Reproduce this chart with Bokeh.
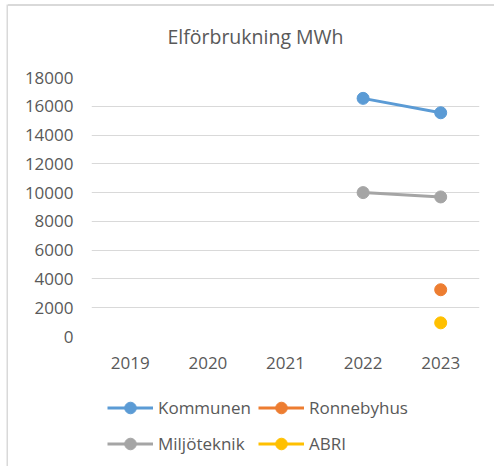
from bokeh.plotting import figure
from bokeh.layouts import column, row
from bokeh.models import Range1d, FactorRange, Legend, LegendItem, FixedTicker, Label, Spacer, Div
from bokeh.embed import file_html
from bokeh.resources import INLINE

nan = float("nan")
years = ["2019", "2020", "2021", "2022", "2023"]
kommunen = [nan, nan, nan, 16550, 15550]
ronnebyhus = [nan, nan, nan, nan, 3250]
miljoteknik = [nan, nan, nan, 10000, 9700]
abri = [nan, nan, nan, nan, 950]
y_ticks = list(range(0, 18001, 2000))
title_text = "Elförbrukning MWh"

series = [
    ("Kommunen", kommunen, "#5B9BD5"),
    ("Ronnebyhus", ronnebyhus, "#ED7D31"),
    ("Miljöteknik", miljoteknik, "#A5A5A5"),
    ("ABRI", abri, "#FFC000"),
]
legend_order = ["Kommunen", "Miljöteknik", "Ronnebyhus", "ABRI"]

FONT = "Open Sans"
TXT = "#595959"
BORDER = "#d9d9d9"


def blank(w, h, **kw):
    f = figure(width=w, height=h, output_backend="svg", toolbar_location=None,
               x_axis_location=None, y_axis_location=None, title_location=None,
               x_range=Range1d(0, 1), y_range=Range1d(0, 1), **kw)
    f.grid.visible = False
    f.outline_line_color = None
    return f


# border strips
left_strip = blank(8, 466, min_border_left=6, min_border_top=4, min_border_right=0, min_border_bottom=0)
left_strip.background_fill_color = BORDER
left_strip.border_fill_color = "white"

top_strip = Div(text="", width=486, height=2, margin=0,
                styles={"background-color": BORDER})

# title panel
tf = blank(486, 54, min_border_left=0, min_border_top=0, min_border_right=0, min_border_bottom=0)
tf.background_fill_color = "white"
tf.border_fill_color = "white"
tf.add_layout(Label(x=0.4227, y=0.439, text=title_text, text_align="center",
                    text_baseline="alphabetic", text_font=FONT, text_font_size="19.5px",
                    text_color=TXT))

# main chart
p = figure(width=486, height=320, output_backend="svg", toolbar_location=None,
           title_location=None,
           x_range=FactorRange(factors=years, range_padding=0),
           y_range=Range1d(0, 18000),
           min_border_left=83, min_border_right=15, min_border_top=17, min_border_bottom=44)
p.outline_line_color = None
p.background_fill_color = "white"
p.border_fill_color = "white"

p.xgrid.grid_line_color = None
p.ygrid.grid_line_color = BORDER
p.ygrid.grid_line_width = 1
p.yaxis.ticker = FixedTicker(ticks=y_ticks)

for ax in (p.xaxis[0], p.yaxis[0]):
    ax.axis_line_color = None
    ax.major_tick_line_color = None
    ax.minor_tick_line_color = None
    ax.major_tick_out = 0
    ax.major_tick_in = 0
    ax.minor_tick_out = 0
    ax.major_label_text_font = FONT
    ax.major_label_text_font_size = "17px"
    ax.major_label_text_color = TXT
p.yaxis[0].major_label_standoff = 18
p.xaxis[0].major_label_standoff = 20

for name, vals, col in series:
    p.line(years, vals, line_color=col, line_width=3)
    p.scatter(years, vals, marker="circle", size=12, fill_color=col, line_color=col)

# legend panel
lg = blank(486, 86, min_border_left=0, min_border_right=0, min_border_top=0, min_border_bottom=0)
lg.background_fill_color = "white"
lg.border_fill_color = "white"

item_map = {}
for name, vals, col in series:
    r1 = lg.line([nan], [nan], line_color=col, line_width=3)
    r2 = lg.scatter([nan], [nan], marker="circle", size=12, fill_color=col, line_color=col)
    item_map[name] = LegendItem(label=name, renderers=[r1, r2])

legend = Legend(items=[item_map[n] for n in legend_order], ncols=2, location=(16, 8),
                glyph_width=46, glyph_height=29, label_height=29, label_standoff=5,
                spacing=7, padding=0, margin=0,
                border_line_color=None, background_fill_alpha=0,
                label_text_font=FONT, label_text_font_size="17px", label_text_color=TXT)
lg.add_layout(legend, "center")

right = column(Spacer(width=486, height=4), top_strip, tf, p, lg, spacing=0)
layout = row(left_strip, right, spacing=0)

open("out.html", "w").write(file_html(layout, INLINE))
